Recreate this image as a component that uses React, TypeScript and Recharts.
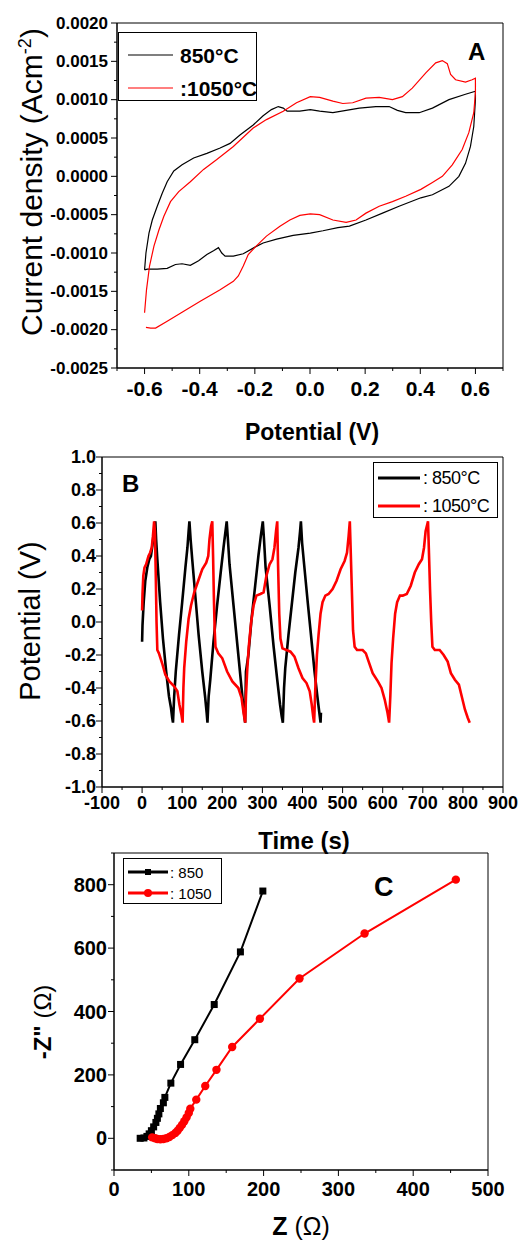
import { LineChart, Line, XAxis, YAxis, ReferenceArea } from 'recharts'

const FONT = '"Liberation Sans", Arial, sans-serif'

// ---- A: cyclic voltammetry, [potential V, current density A/cm2] ----
const CV_850: [number, number][] = [
  [-0.6, -0.00122], [-0.595, -0.001], [-0.584, -0.00074], [-0.572, -0.00057], [-0.554, -0.00039],
  [-0.536, -0.00022], [-0.518, -0.00007], [-0.494, 0.00007], [-0.464, 0.00015], [-0.422, 0.00024],
  [-0.374, 0.0003], [-0.326, 0.00037], [-0.29, 0.00043], [-0.254, 0.00054], [-0.206, 0.00067],
  [-0.17, 0.00079], [-0.14, 0.00087], [-0.115, 0.00091], [-0.097, 0.00089], [-0.083, 0.00085],
  [-0.037, 0.00085], [0.001, 0.00087], [0.035, 0.00085], [0.083, 0.00083], [0.131, 0.00086],
  [0.179, 0.00089], [0.239, 0.00091], [0.287, 0.00091], [0.317, 0.00086], [0.347, 0.00083],
  [0.396, 0.00083], [0.444, 0.00089], [0.504, 0.001], [0.564, 0.00107], [0.6, 0.00111],
  [0.6, 0.001], [0.594, 0.00065], [0.582, 0.00039], [0.564, 0.00017], [0.54, 0.0],
  [0.504, -0.00013], [0.444, -0.00024], [0.402, -0.00028], [0.323, -0.00039], [0.263, -0.00048],
  [0.203, -0.00057], [0.143, -0.00065], [0.101, -0.00067], [0.047, -0.00071], [0.001, -0.00074],
  [-0.061, -0.00077], [-0.121, -0.00082], [-0.17, -0.00087], [-0.198, -0.00092], [-0.242, -0.00101],
  [-0.278, -0.00104], [-0.308, -0.00104], [-0.32, -0.001], [-0.332, -0.00093], [-0.35, -0.00097],
  [-0.374, -0.00102], [-0.404, -0.0011], [-0.434, -0.00116], [-0.464, -0.00114], [-0.488, -0.00115],
  [-0.518, -0.0012], [-0.554, -0.00121], [-0.59, -0.00121], [-0.6, -0.00122],
]
const CV_1050: [number, number][] = [
  [-0.6, -0.00178], [-0.593, -0.00148], [-0.582, -0.00117], [-0.566, -0.00091], [-0.548, -0.0007],
  [-0.53, -0.00052], [-0.506, -0.00033], [-0.476, -0.0002], [-0.434, -0.00007], [-0.386, 0.00009],
  [-0.338, 0.00022], [-0.278, 0.00039], [-0.206, 0.00063], [-0.158, 0.00074], [-0.097, 0.00085],
  [-0.049, 0.00096], [0.001, 0.00104], [0.035, 0.00103], [0.083, 0.00098], [0.119, 0.00095],
  [0.155, 0.00096], [0.203, 0.00102], [0.251, 0.00103], [0.299, 0.001], [0.335, 0.00104],
  [0.371, 0.00115], [0.42, 0.00135], [0.456, 0.00148], [0.48, 0.00151], [0.498, 0.00147],
  [0.51, 0.00133], [0.528, 0.00126], [0.564, 0.00123], [0.588, 0.00126], [0.6, 0.00128],
  [0.6, 0.00109], [0.594, 0.00083], [0.576, 0.00057], [0.552, 0.00035], [0.516, 0.00015],
  [0.48, 0.0], [0.444, -0.00008], [0.402, -0.00017], [0.347, -0.00026], [0.299, -0.00033],
  [0.251, -0.00039], [0.203, -0.00048], [0.167, -0.00057], [0.131, -0.0006], [0.083, -0.00057],
  [0.035, -0.0005], [0.001, -0.00049], [-0.037, -0.00051], [-0.073, -0.00057], [-0.109, -0.00065],
  [-0.158, -0.00078], [-0.198, -0.00092], [-0.224, -0.00102], [-0.242, -0.00117], [-0.26, -0.0013],
  [-0.278, -0.00137], [-0.326, -0.00148], [-0.398, -0.00163], [-0.458, -0.00176], [-0.518, -0.00189],
  [-0.56, -0.00198], [-0.578, -0.00198], [-0.595, -0.00197],
]
const CV_X_MAJOR = [-0.6, -0.4, -0.2, 0, 0.2, 0.4, 0.6]
const CV_X_MINOR = [-0.7, -0.5, -0.3, -0.1, 0.1, 0.3, 0.5, 0.7]
const CV_Y_MAJOR = [-0.0025, -0.002, -0.0015, -0.001, -0.0005, 0, 0.0005, 0.001, 0.0015, 0.002]
const CV_Y_MINOR = [-0.00225, -0.00175, -0.00125, -0.00075, -0.00025, 0.00025, 0.00075, 0.00125, 0.00175]

// ---- B: charge/discharge, [time s, potential V] ----
const GCD_850: [number, number][] = [
  [0, -0.12], [1, -0.02], [4, 0.12], [8, 0.25], [13, 0.33], [18, 0.38], [22, 0.4], [26, 0.47],
  [30, 0.55], [33, 0.61], [35, 0.5], [38, 0.38], [45, 0.12], [52, -0.1], [60, -0.3], [67, -0.45],
  [72, -0.52], [75, -0.58], [77, -0.61], [80, -0.45], [84, -0.3], [92, -0.08], [100, 0.12],
  [108, 0.33], [113, 0.45], [116, 0.55], [118, 0.61], [121, 0.5], [125, 0.38], [133, 0.15],
  [141, -0.08], [150, -0.3], [157, -0.45], [161, -0.55], [163, -0.61], [166, -0.45], [170, -0.35],
  [178, -0.12], [187, 0.1], [196, 0.3], [203, 0.45], [208, 0.55], [211, 0.61], [214, 0.5],
  [218, 0.35], [228, 0.1], [238, -0.15], [246, -0.35], [252, -0.5], [255, -0.57], [257, -0.61],
  [259, -0.3], [265, -0.2], [273, 0.02], [282, 0.22], [290, 0.4], [296, 0.52], [301, 0.61],
  [304, 0.5], [308, 0.33], [318, 0.1], [328, -0.15], [337, -0.35], [344, -0.5], [348, -0.57],
  [351, -0.61], [354, -0.4], [357, -0.28], [365, -0.08], [373, 0.1], [382, 0.3], [390, 0.45],
  [394, 0.55], [396, 0.61], [399, 0.48], [404, 0.35], [413, 0.12], [422, -0.1], [430, -0.3],
  [437, -0.45], [442, -0.55], [445, -0.61], [446, -0.55],
]
const GCD_1050: [number, number][] = [
  [0, 0.07], [1, 0.17], [3, 0.28], [6, 0.33], [10, 0.35], [16, 0.4], [20, 0.42], [24, 0.45],
  [27, 0.52], [30, 0.61], [32, 0.55], [34, 0.3], [36, 0.0], [38, -0.17], [42, -0.19], [50, -0.25],
  [58, -0.32], [68, -0.36], [80, -0.39], [88, -0.42], [93, -0.5], [98, -0.56], [101, -0.61],
  [103, -0.4], [105, -0.28], [110, -0.12], [116, 0.02], [122, 0.1], [130, 0.18], [140, 0.25],
  [150, 0.32], [160, 0.36], [165, 0.4], [168, 0.5], [172, 0.58], [175, 0.61], [177, 0.4],
  [179, 0.15], [181, -0.05], [183, -0.15], [190, -0.19], [200, -0.22], [212, -0.3], [225, -0.36],
  [240, -0.4], [248, -0.46], [253, -0.55], [257, -0.61], [259, -0.45], [262, -0.3], [266, -0.15],
  [272, 0.0], [278, 0.1], [285, 0.16], [295, 0.17], [303, 0.18], [310, 0.28], [318, 0.35],
  [325, 0.38], [330, 0.45], [334, 0.55], [337, 0.61], [339, 0.35], [342, 0.05], [345, -0.1],
  [350, -0.16], [360, -0.17], [370, -0.18], [380, -0.21], [390, -0.28], [400, -0.34], [410, -0.37],
  [418, -0.42], [423, -0.5], [427, -0.58], [429, -0.61], [432, -0.4], [436, -0.2], [440, -0.08],
  [445, 0.05], [450, 0.12], [457, 0.16], [465, 0.17], [475, 0.2], [485, 0.25], [495, 0.32],
  [505, 0.37], [511, 0.42], [515, 0.52], [518, 0.61], [520, 0.45], [523, 0.2], [526, -0.05],
  [530, -0.15], [536, -0.17], [550, -0.17], [558, -0.19], [565, -0.24], [575, -0.31], [588, -0.36],
  [597, -0.4], [605, -0.47], [612, -0.55], [616, -0.61], [619, -0.45], [622, -0.25], [626, -0.1],
  [631, 0.05], [636, 0.12], [643, 0.16], [650, 0.16], [660, 0.17], [670, 0.22], [680, 0.3],
  [690, 0.35], [698, 0.38], [703, 0.45], [707, 0.55], [713, 0.61], [715, 0.45], [718, 0.2],
  [721, 0.0], [724, -0.15], [730, -0.17], [742, -0.17], [752, -0.2], [762, -0.24], [770, -0.31],
  [780, -0.35], [790, -0.38], [797, -0.45], [805, -0.53], [812, -0.58], [817, -0.61],
]
const GCD_X_MAJOR = [-100, 0, 100, 200, 300, 400, 500, 600, 700, 800, 900]
const GCD_X_MINOR = [-50, 50, 150, 250, 350, 450, 550, 650, 750, 850]
const GCD_Y_MAJOR = [-1, -0.8, -0.6, -0.4, -0.2, 0, 0.2, 0.4, 0.6, 0.8, 1]
const GCD_Y_MINOR = [-0.9, -0.7, -0.5, -0.3, -0.1, 0.1, 0.3, 0.5, 0.7, 0.9]

// ---- C: Nyquist, [Z' ohm, -Z'' ohm] ----
const EIS_850: [number, number][] = [
  [35, 0], [40, 1], [44, 6], [47, 14], [50, 24], [53, 36], [56, 50], [58, 63], [60, 77],
  [62, 94], [66, 112], [68, 129], [76, 174], [89, 233], [108, 311], [134, 422], [169, 588], [199, 780],
]
const EIS_1050: [number, number][] = [
  [51, 3], [55, 0], [58, -2], [62, -3], [66, -2], [70, 0], [74, 4], [78, 10], [82, 17], [85, 24],
  [88, 33], [91, 43], [94, 54], [97, 66], [100, 80], [102, 93], [110, 122], [122, 165], [137, 216],
  [158, 288], [195, 377], [248, 504], [335, 646], [457, 816],
]
const EIS_X_MAJOR = [0, 100, 200, 300, 400, 500]
const EIS_X_MINOR = [50, 150, 250, 350, 450]
const EIS_Y_MAJOR = [0, 200, 400, 600, 800]
const EIS_Y_MINOR = [-100, 100, 300, 500, 700, 900]

const toPts = (arr: [number, number][]) => arr.map(([x, y]) => ({ x, y }))
const allTicks = (a: number[], b: number[]) => [...a, ...b].sort((p, q) => p - q)
const isMajor = (majors: number[], v: number) => majors.some((m) => Math.abs(m - v) < 1e-9)

function xTick(majors: number[], fmt: (v: number) => string, fontSize: number, dy: number) {
  return (props: any) => {
    const { x, y, payload } = props
    const major = isMajor(majors, payload.value)
    return (
      <g>
        <line x1={x} y1={y} x2={x} y2={y + (major ? 6 : 3)} stroke="#000" />
        {major && (
          <text x={x} y={y + dy} textAnchor="middle" dominantBaseline="central"
            style={{ fontFamily: FONT, fontSize, fontWeight: 700, fill: '#000' }}>
            {fmt(payload.value)}
          </text>
        )}
      </g>
    )
  }
}

function yTick(majors: number[], fmt: (v: number) => string, fontSize: number, dx: number) {
  return (props: any) => {
    const { x, y, payload } = props
    const major = isMajor(majors, payload.value)
    return (
      <g>
        <line x1={x} y1={y} x2={x - (major ? 6 : 3)} y2={y} stroke="#000" />
        {major && (
          <text x={x - dx} y={y} textAnchor="end" dominantBaseline="central"
            style={{ fontFamily: FONT, fontSize, fontWeight: 700, fill: '#000' }}>
            {fmt(payload.value)}
          </text>
        )}
      </g>
    )
  }
}

const square = (p: any) => <rect key={p.index} x={p.cx - 3.5} y={p.cy - 3.5} width={7} height={7} fill="#000" />
const circle = (p: any) => <circle key={p.index} cx={p.cx} cy={p.cy} r={4.2} fill="#ff0000" />

const abs = (left: number, top: number, extra: any = {}) => ({ position: 'absolute' as const, left, top, ...extra })

function Title({ x, y, rotate, size, bold, children }: any) {
  return (
    <div style={{
      position: 'absolute', left: x, top: y, whiteSpace: 'nowrap', fontSize: size,
      fontWeight: bold ? 700 : 400, lineHeight: 1.2,
      transform: `translate(-50%, -50%)${rotate ? ' rotate(-90deg)' : ''}`,
    }}>
      {children}
    </div>
  )
}

export default function App() {
  const axisProps = { tickLine: false, tickSize: 0, tickMargin: 0, interval: 0 as const, axisLine: { stroke: '#000' }, allowDataOverflow: true }
  return (
    <div style={{ position: 'absolute', left: 0, top: 0, width: 527, height: 1241, background: '#fff', fontFamily: FONT, color: '#000', overflow: 'hidden' }}>
      {/* A */}
      <div style={abs(0, 0)}>
        <LineChart width={527} height={410} margin={{ top: 23, right: 24, bottom: 2, left: 37 }}>
          <XAxis type="number" dataKey="x" domain={[-0.7, 0.7]} height={40} ticks={allTicks(CV_X_MAJOR, CV_X_MINOR)}
            tick={xTick(CV_X_MAJOR, (v) => v.toFixed(1), 21, 20)} {...axisProps} />
          <YAxis type="number" domain={[-0.0025, 0.002]} width={80} ticks={allTicks(CV_Y_MAJOR, CV_Y_MINOR)}
            tick={yTick(CV_Y_MAJOR, (v) => v.toFixed(4), 17, 9)} {...axisProps} />
          <ReferenceArea x1={-0.7} x2={0.7} y1={-0.0025} y2={0.002} fill="none" stroke="#000" ifOverflow="visible" />
          <Line data={toPts(CV_850)} dataKey="y" type="linear" stroke="#000" strokeWidth={1.2} dot={false} isAnimationActive={false} />
          <Line data={toPts(CV_1050)} dataKey="y" type="linear" stroke="#ff0000" strokeWidth={1.2} dot={false} isAnimationActive={false} />
        </LineChart>
      </div>
      <div style={abs(118, 32, { width: 139, height: 69, border: '1px solid #000', boxSizing: 'border-box', background: '#fff' })}>
        <svg width={60} height={67} style={abs(0, 0)}>
          <line x1={9} x2={54} y1={22} y2={22} stroke="#000" strokeWidth={1.2} />
          <line x1={9} x2={54} y1={55} y2={55} stroke="#ff0000" strokeWidth={1.2} />
        </svg>
        <div style={abs(61, 12, { fontSize: 21, fontWeight: 700, lineHeight: '21px', whiteSpace: 'nowrap' })}>850°C</div>
        <div style={abs(61, 45, { fontSize: 21, fontWeight: 700, lineHeight: '21px', whiteSpace: 'nowrap' })}>:1050°C</div>
      </div>
      <div style={abs(468, 38, { fontSize: 24, fontWeight: 700 })}>A</div>
      <Title x={32} y={182} rotate size={30}>Current density (Acm<sup style={{ fontSize: '0.6em' }}>-2</sup>)</Title>
      <Title x={312} y={433} size={23} bold>Potential (V)</Title>

      {/* B */}
      <div style={abs(0, 440)}>
        <LineChart width={527} height={380} margin={{ top: 17, right: 24, bottom: 3, left: 32 }}>
          <XAxis type="number" dataKey="x" domain={[-100, 900]} height={30} ticks={allTicks(GCD_X_MAJOR, GCD_X_MINOR)}
            tick={xTick(GCD_X_MAJOR, (v) => String(v), 18, 16)} {...axisProps} />
          <YAxis type="number" domain={[-1, 1]} width={70} ticks={allTicks(GCD_Y_MAJOR, GCD_Y_MINOR)}
            tick={yTick(GCD_Y_MAJOR, (v) => v.toFixed(1), 18, 6)} {...axisProps} />
          <ReferenceArea x1={-100} x2={900} y1={-1} y2={1} fill="none" stroke="#000" ifOverflow="visible" />
          <Line data={toPts(GCD_850)} dataKey="y" type="linear" stroke="#000" strokeWidth={2.6} dot={false} isAnimationActive={false} />
          <Line data={toPts(GCD_1050)} dataKey="y" type="linear" stroke="#ff0000" strokeWidth={2.6} dot={false} isAnimationActive={false} />
        </LineChart>
      </div>
      <div style={abs(373, 462, { width: 125, height: 56, border: '1px solid #000', boxSizing: 'border-box', background: '#fff' })}>
        <svg width={50} height={54} style={abs(0, 0)}>
          <line x1={4} x2={46} y1={15} y2={15} stroke="#000" strokeWidth={3} />
          <line x1={4} x2={46} y1={43} y2={43} stroke="#ff0000" strokeWidth={3} />
        </svg>
        <div style={abs(49, 6, { fontSize: 18, lineHeight: '18px', whiteSpace: 'nowrap', letterSpacing: -0.5 })}>: 850°C</div>
        <div style={abs(49, 34, { fontSize: 18, lineHeight: '18px', whiteSpace: 'nowrap', letterSpacing: -0.5 })}>: 1050°C</div>
      </div>
      <div style={abs(122, 470, { fontSize: 24, fontWeight: 700 })}>B</div>
      <Title x={30} y={621} rotate size={29}>Potential (V)</Title>
      <Title x={304} y={841} size={24} bold>Time (s)</Title>

      {/* C */}
      <div style={abs(0, 847)}>
        <LineChart width={527} height={358} margin={{ top: 6, right: 39, bottom: 0, left: 54 }}>
          <XAxis type="number" dataKey="x" domain={[0, 500]} height={35} ticks={allTicks(EIS_X_MAJOR, EIS_X_MINOR)}
            tick={xTick(EIS_X_MAJOR, (v) => String(v), 20, 19)} {...axisProps} />
          <YAxis type="number" domain={[-100, 900]} width={60} ticks={allTicks(EIS_Y_MAJOR, EIS_Y_MINOR)}
            tick={yTick(EIS_Y_MAJOR, (v) => String(v), 20, 7)} {...axisProps} />
          <ReferenceArea x1={0} x2={500} y1={-100} y2={900} fill="none" stroke="#000" ifOverflow="visible" />
          <Line data={toPts(EIS_850)} dataKey="y" type="linear" stroke="#000" strokeWidth={2} dot={square} isAnimationActive={false} />
          <Line data={toPts(EIS_1050)} dataKey="y" type="linear" stroke="#ff0000" strokeWidth={2} dot={circle} isAnimationActive={false} />
        </LineChart>
      </div>
      <div style={abs(123, 858, { width: 99, height: 46, border: '1px solid #000', boxSizing: 'border-box', background: '#fff' })}>
        <svg width={48} height={44} style={abs(0, 0)}>
          <line x1={4} x2={44} y1={13} y2={13} stroke="#000" strokeWidth={3} />
          <rect x={21} y={10} width={6} height={6} fill="#000" />
          <line x1={4} x2={44} y1={34} y2={34} stroke="#ff0000" strokeWidth={3} />
          <circle cx={24} cy={34} r={4} fill="#ff0000" />
        </svg>
        <div style={abs(46, 6, { fontSize: 15, lineHeight: '15px', whiteSpace: 'nowrap' })}>: 850</div>
        <div style={abs(46, 27, { fontSize: 15, lineHeight: '15px', whiteSpace: 'nowrap' })}>: 1050</div>
      </div>
      <div style={abs(374, 872, { fontSize: 27, fontWeight: 700 })}>C</div>
      <Title x={43} y={1022} rotate size={24}><b>-Z"</b> (Ω)</Title>
      <Title x={301} y={1226} size={25}><b>Z</b> (Ω)</Title>
    </div>
  )
}
